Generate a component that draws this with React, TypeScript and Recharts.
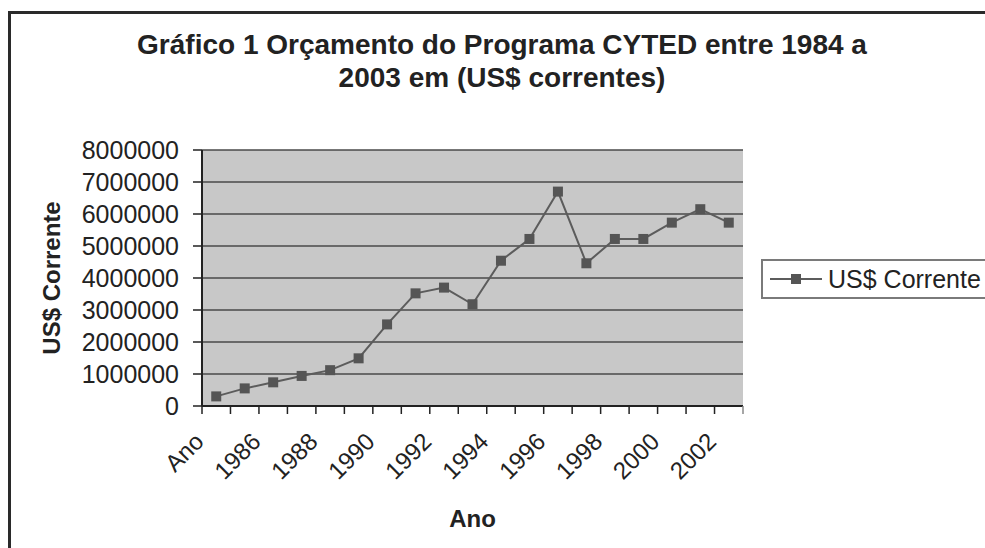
import { CartesianGrid, Label, Line, LineChart, XAxis, YAxis } from "recharts";

const titleLines = ["Gráfico 1 Orçamento do Programa CYTED entre 1984 a", "2003 em (US$ correntes)"];
const years = ["Ano", "1985", "1986", "1987", "1988", "1989", "1990", "1991", "1992", "1993", "1994", "1995", "1996", "1997", "1998", "1999", "2000", "2001", "2002"];
const budget = [300000, 550000, 740000, 940000, 1120000, 1490000, 2550000, 3520000, 3700000, 3180000, 4540000, 5220000, 6700000, 4460000, 5220000, 5220000, 5730000, 6150000, 5730000];
const yTicks = [0, 1000000, 2000000, 3000000, 4000000, 5000000, 6000000, 7000000, 8000000];
const seriesName = "US$ Corrente";
const xTitle = "Ano";

const FONT = "'Liberation Sans', Arial, sans-serif";
const INK = "#222";
const PLOT_LEFT = 202;
const PLOT_RIGHT = 743;
const PLOT_TOP = 150;
const PLOT_BOTTOM = 406;
const STEP = (PLOT_RIGHT - PLOT_LEFT) / years.length;

const data = years.map((year, i) => ({ year, value: budget[i] }));

function YearTick(props: any) {
  const { x, y, payload, index } = props;
  const half = STEP / 2;
  const ax = x - 11;
  const ay = y + 37;
  return (
    <g>
      <line x1={x - half} x2={x - half} y1={y} y2={y + 8} stroke={INK} strokeWidth={1.5} />
      {index === years.length - 1 && <line x1={x + half} x2={x + half} y1={y} y2={y + 8} stroke="#888" strokeWidth={1.5} />}
      {index % 2 === 0 && (
        <text x={ax} y={ay} transform={`rotate(-45 ${ax} ${ay})`} textAnchor="end" fontSize={24} fontFamily={FONT} fill={INK}>
          {payload.value}
        </text>
      )}
    </g>
  );
}

function SquareDot(props: any) {
  const { cx, cy, index } = props;
  return <rect key={`dot-${index}`} x={cx - 5} y={cy - 5} width={10} height={10} fill="#555" />;
}

export default function App() {
  return (
    <div style={{ position: "absolute", left: 0, top: 0, width: 985, height: 548, overflow: "hidden", background: "#fff", fontFamily: FONT }}>
      <div style={{ position: "absolute", left: 8, top: 11, width: 1000, height: 600, border: "3px solid #2a2a2a" }} />
      <div style={{ position: "absolute", left: 0, top: 28, width: 1004, textAlign: "center", fontSize: 28, fontWeight: "bold", lineHeight: "33px", color: INK }}>
        {titleLines[0]}
        <br />
        {titleLines[1]}
      </div>
      <div style={{ position: "absolute", left: 0, top: 0 }}>
        <LineChart width={985} height={548} data={data} margin={{ top: PLOT_TOP, right: 985 - PLOT_RIGHT, left: 0, bottom: 0 }}>
          <CartesianGrid vertical={false} fill="#c8c8c8" stroke="#4a4a4a" strokeWidth={1.5} />
          <XAxis
            dataKey="year"
            height={548 - PLOT_BOTTOM}
            interval={0}
            padding={{ left: STEP / 2, right: STEP / 2 }}
            tickLine={false}
            tickSize={0}
            tickMargin={0}
            tick={<YearTick />}
            axisLine={{ stroke: INK, strokeWidth: 2 }}
          >
            <Label
              content={(p: any) => {
                const vb = p.viewBox;
                return (
                  <text x={vb.x + vb.width / 2} y={vb.y + 121} textAnchor="middle" fontSize={24} fontWeight="bold" fontFamily={FONT} fill={INK}>
                    {xTitle}
                  </text>
                );
              }}
            />
          </XAxis>
          <XAxis xAxisId="frame" orientation="top" dataKey="year" height={0} tick={false} tickLine={false} axisLine={{ stroke: "#8a8a8a", strokeWidth: 2 }} />
          <YAxis
            width={PLOT_LEFT}
            domain={[0, 8000000]}
            ticks={yTicks}
            interval={0}
            tickSize={9}
            tickMargin={14}
            tick={{ fontSize: 25, fontFamily: FONT, fill: INK }}
            tickLine={{ stroke: INK, strokeWidth: 1.5 }}
            axisLine={{ stroke: INK, strokeWidth: 2 }}
          >
            <Label
              content={(p: any) => {
                const vb = p.viewBox;
                const cx = 51;
                const cy = vb.y + vb.height / 2;
                return (
                  <text x={cx} y={cy} transform={`rotate(-90 ${cx} ${cy})`} textAnchor="middle" dominantBaseline="central" fontSize={24} fontWeight="bold" fontFamily={FONT} fill={INK}>
                    {seriesName}
                  </text>
                );
              }}
            />
          </YAxis>
          <YAxis yAxisId="frame" orientation="right" width={0} domain={[0, 8000000]} tick={false} tickLine={false} axisLine={{ stroke: "#8a8a8a", strokeWidth: 2 }} />
          <Line type="linear" dataKey="value" name={seriesName} stroke="#5c5c5c" strokeWidth={2} dot={<SquareDot />} activeDot={false} isAnimationActive={false} />
        </LineChart>
      </div>
      <div style={{ position: "absolute", left: 761, top: 259, width: 240, height: 36, border: "2px solid #7a7a7a", background: "#fff", display: "flex", alignItems: "center" }}>
        <svg width={52} height={12} style={{ marginLeft: 7 }}>
          <line x1={0} x2={52} y1={6} y2={6} stroke="#5c5c5c" strokeWidth={2} />
          <rect x={21} y={1} width={10} height={10} fill="#555" />
        </svg>
        <span style={{ marginLeft: 6, fontSize: 25, color: INK, whiteSpace: "nowrap" }}>{seriesName}</span>
      </div>
    </div>
  );
}
